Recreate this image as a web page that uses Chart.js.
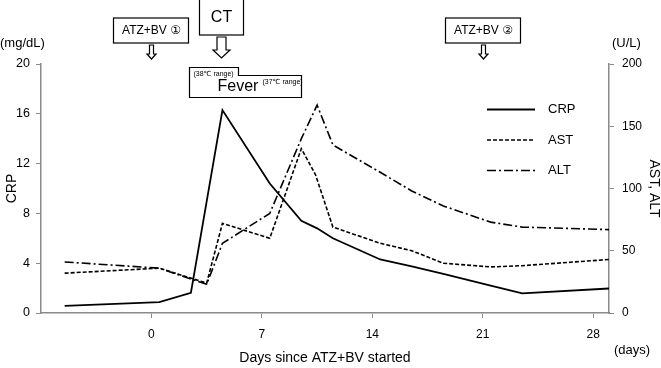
<!DOCTYPE html>
<html>
<head>
<meta charset="utf-8">
<script src="https://cdn.jsdelivr.net/npm/chart.js@4.4.0/dist/chart.umd.min.js"></script>
<style>
html, body { margin: 0; padding: 0; background: #fff; }
</style>
</head>
<body>
<canvas id="chart" width="661" height="368"></canvas>
<script>
(function () {
    "use strict";

    // Data (days since ATZ+BV started)
    const crpDays = [-5.5, 0.5, 2.5, 4.5, 7.5, 9.5, 10.5, 11.5, 14.5, 16.5, 18.5, 21.5, 23.5, 29];
    const crpValues = [0.58, 0.88, 1.62, 16.3, 10.4, 7.4, 6.8, 6.0, 4.3, 3.75, 3.15, 2.2, 1.57, 1.97];

    const astDays = [-5.5, 0.5, 3.5, 4.5, 7.5, 9.5, 10.4, 11.5, 14.5, 16.5, 18.5, 21.5, 23.5, 29];
    const astValues = [32, 36, 24, 72, 60, 132, 111, 69, 56, 50, 40, 37, 38, 43];

    const altDays = [-5.5, 0.5, 3.5, 4.5, 7.5, 9.5, 10.5, 11.5, 14.5, 16.5, 18.5, 21.5, 23.5, 29];
    const altValues = [41, 36, 23, 56, 80, 140, 167, 135, 113, 98, 86, 73, 69, 67];

    const xTicks = [0, 7, 14, 21, 28];

    // Events marked above the plot
    const eventLabels = ["ATZ+BV \u2460", "CT", "ATZ+BV \u2461"];
    const eventDays = [0, 4.4, 21];
    const feverDays = [2.4, 5.5, 9.5]; // start, end of 38C range, end of 37C range

    const toPoints = (days, values) => days.map((d, i) => ({ x: d, y: values[i] }));

    const FONT = '"Liberation Sans", Arial, "DejaVu Sans", sans-serif';
    Chart.defaults.font.family = FONT;
    Chart.defaults.color = "#000";

    const axisColor = "#8a8a8a";

    function hollowArrow(ctx, cx, top, bottom, shaftW, headW, headH) {
        ctx.beginPath();
        ctx.moveTo(cx - shaftW / 2, top);
        ctx.lineTo(cx + shaftW / 2, top);
        ctx.lineTo(cx + shaftW / 2, bottom - headH);
        ctx.lineTo(cx + headW / 2, bottom - headH);
        ctx.lineTo(cx, bottom);
        ctx.lineTo(cx - headW / 2, bottom - headH);
        ctx.lineTo(cx - shaftW / 2, bottom - headH);
        ctx.closePath();
        ctx.stroke();
    }

    const notes = {
        id: "notes",
        afterDraw(chart) {
            const { ctx, scales: { x } } = chart;
            ctx.save();
            ctx.strokeStyle = "#000";
            ctx.fillStyle = "#000";
            ctx.lineWidth = 1.2;
            ctx.textAlign = "center";
            ctx.textBaseline = "middle";

            // event boxes + arrows
            eventLabels.forEach((label, i) => {
                const cx = Math.round(x.getPixelForValue(eventDays[i])) + 0.5;
                if (label === "CT") {
                    ctx.strokeRect(cx - 22, -1, 44, 36);
                    ctx.font = "16px " + FONT;
                    ctx.fillText(label, cx, 18);
                    hollowArrow(ctx, cx, 37, 58, 9, 17, 8);
                } else {
                    ctx.strokeRect(cx - 38, 18, 75, 25);
                    ctx.font = "12px " + FONT;
                    ctx.fillText(label, cx, 31);
                    hollowArrow(ctx, cx, 45, 59, 4, 9, 5);
                }
            });

            // fever box
            const f0 = Math.round(x.getPixelForValue(feverDays[0])) + 0.5;
            const f1 = Math.round(x.getPixelForValue(feverDays[1])) + 0.5;
            const f2 = Math.round(x.getPixelForValue(feverDays[2])) + 0.5;
            ctx.beginPath();
            ctx.moveTo(f0, 67.5);
            ctx.lineTo(f1, 67.5);
            ctx.lineTo(f1, 75.5);
            ctx.lineTo(f2, 75.5);
            ctx.lineTo(f2, 97.5);
            ctx.lineTo(f0, 97.5);
            ctx.closePath();
            ctx.stroke();
            ctx.font = "7px " + FONT;
            ctx.textAlign = "left";
            ctx.fillText("(38\u2103 range)", f0 + 4, 74);
            ctx.fillText("(37\u2103 range)", f1 + 24, 82);
            ctx.font = "16px " + FONT;
            ctx.fillText("Fever", f0 + 28, 87);

            // units
            ctx.font = "13px " + FONT;
            ctx.fillText("(mg/dL)", 0, 43);
            ctx.fillText("(U/L)", 612, 43);
            ctx.fillText("(days)", 614, 350);

            // legend
            chart.data.datasets.forEach((ds, i) => {
                const y = 109.5 + 30.5 * i;
                ctx.save();
                ctx.lineWidth = ds.borderWidth;
                ctx.setLineDash(ds.borderDash || []);
                ctx.beginPath();
                ctx.moveTo(487, y);
                ctx.lineTo(535, y);
                ctx.stroke();
                ctx.restore();
                ctx.font = "13px " + FONT;
                ctx.textAlign = "left";
                ctx.fillText(ds.label, 548, y);
            });
            ctx.restore();
        },
    };

    const ctx = document.getElementById("chart").getContext("2d");
    new Chart(ctx, {
        type: "line",
        data: {
            datasets: [
                {
                    label: "CRP",
                    data: toPoints(crpDays, crpValues),
                    yAxisID: "y",
                    borderColor: "#000",
                    borderWidth: 1.8,
                    pointRadius: 0,
                    tension: 0,
                },
                {
                    label: "AST",
                    data: toPoints(astDays, astValues),
                    yAxisID: "y1",
                    borderColor: "#000",
                    borderWidth: 1.6,
                    borderDash: [4, 2],
                    pointRadius: 0,
                    tension: 0,
                },
                {
                    label: "ALT",
                    data: toPoints(altDays, altValues),
                    yAxisID: "y1",
                    borderColor: "#000",
                    borderWidth: 1.6,
                    borderDash: [9, 3, 2, 3],
                    pointRadius: 0,
                    tension: 0,
                },
            ],
        },
        options: {
            responsive: false,
            animation: false,
            devicePixelRatio: 1,
            layout: {
                padding: { top: 64, left: 0, right: 0, bottom: 0 },
            },
            plugins: {
                legend: { display: false },
                tooltip: { enabled: false },
            },
            scales: {
                x: {
                    type: "linear",
                    min: -7,
                    max: 29,
                    afterBuildTicks: (scale) => {
                        scale.ticks = xTicks.map((v) => ({ value: v }));
                    },
                    afterFit: (scale) => {
                        scale.height = 55;
                    },
                    ticks: {
                        font: { size: 12 },
                        padding: 9,
                        maxRotation: 0,
                    },
                    grid: {
                        drawOnChartArea: false,
                        tickLength: 5,
                        color: axisColor,
                    },
                    border: { color: axisColor, width: 1.5 },
                    title: {
                        display: true,
                        text: "Days since ATZ+BV started",
                        font: { size: 14 },
                        padding: { top: 0, bottom: 1 },
                    },
                },
                y: {
                    position: "left",
                    min: 0,
                    max: 20,
                    afterFit: (scale) => {
                        scale.width = 41;
                    },
                    ticks: {
                        stepSize: 4,
                        font: { size: 12.5 },
                        padding: 6,
                    },
                    grid: {
                        drawOnChartArea: false,
                        tickLength: 5,
                        color: axisColor,
                    },
                    border: { color: axisColor, width: 1.5 },
                    title: {
                        display: true,
                        text: "CRP",
                        font: { size: 14 },
                        padding: { top: 4, bottom: 0 },
                    },
                },
                y1: {
                    position: "right",
                    min: 0,
                    max: 200,
                    afterFit: (scale) => {
                        scale.width = 52;
                    },
                    ticks: {
                        stepSize: 50,
                        font: { size: 12 },
                        padding: 8,
                    },
                    grid: {
                        drawOnChartArea: false,
                        tickLength: 5,
                        color: axisColor,
                    },
                    border: { color: axisColor, width: 1.5 },
                    title: {
                        display: true,
                        text: "AST, ALT",
                        font: { size: 14, lineHeight: 1 },
                        padding: { top: 0, bottom: 0 },
                    },
                },
            },
        },
        plugins: [notes],
    });
})();
</script>
</body>
</html>
